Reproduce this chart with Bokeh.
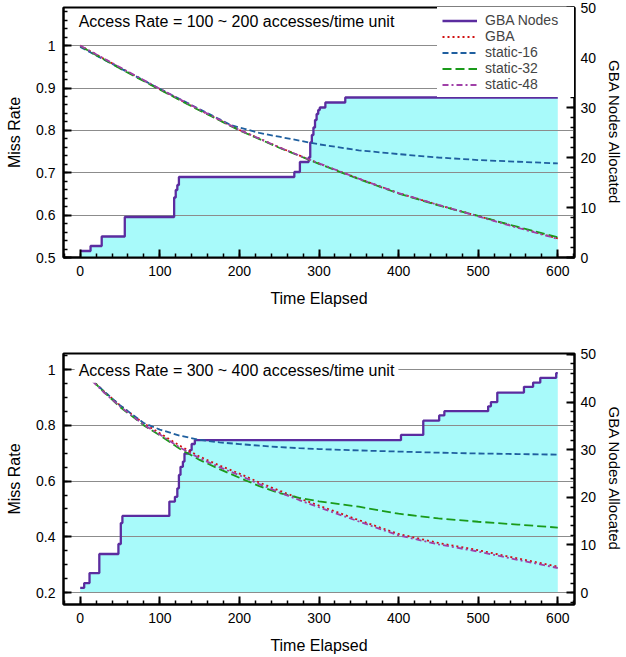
import numpy as np
from bokeh.plotting import figure
from bokeh.models import (Range1d, LinearAxis, SingleIntervalTicker, CustomJSTickFormatter,
                          Label, Legend, LegendItem)
from bokeh.layouts import column
from bokeh.embed import file_html
from bokeh.resources import INLINE

# ---------------- data: top panel (100 ~ 200 accesses/time unit) ----------------
top_t = [0, 50, 100, 150, 200, 250, 300, 350, 400, 450, 500, 550, 600]
top_gba = [1.0, 0.948, 0.897, 0.848, 0.801, 0.760, 0.722, 0.686, 0.652, 0.624, 0.598, 0.571, 0.545]
top_s32 = [0.999, 0.946, 0.896, 0.847, 0.800, 0.759, 0.721, 0.685, 0.651, 0.623, 0.598, 0.572, 0.548]
top_s48 = [1.0, 0.949, 0.898, 0.849, 0.801, 0.760, 0.722, 0.686, 0.652, 0.624, 0.597, 0.570, 0.544]
top_s16_t = [0, 50, 100, 150, 190, 225, 250, 300, 350, 400, 450, 500, 550, 600]
top_s16 = [0.997, 0.947, 0.898, 0.850, 0.812, 0.794, 0.785, 0.767, 0.753, 0.744, 0.736, 0.730, 0.726, 0.722]
top_nodes_t = [0, 13, 27, 56, 118, 120, 122, 124, 269, 276, 287, 289, 291, 293, 295, 297, 299, 301, 308, 333, 600]
top_nodes = [1.3, 2.3, 4.2, 8.1, 12.0, 13.5, 14.5, 16.1, 17.1, 19.1, 20.0, 23.0, 24.5, 26.0, 27.5, 28.7, 29.5, 30.0, 31.0, 32.0, 32.0]

# ---------------- data: bottom panel (300 ~ 400 accesses/time unit) ----------------
bot_t = [15, 30, 50, 80, 100, 125, 150, 175, 200, 225, 250, 275, 300, 350, 400, 450, 500, 550, 600]
bot_gba = [0.962, 0.922, 0.872, 0.807, 0.772, 0.727, 0.688, 0.656, 0.627, 0.595, 0.566, 0.538, 0.512, 0.460, 0.410, 0.378, 0.352, 0.322, 0.293]
bot_s48 = [0.960, 0.918, 0.868, 0.802, 0.767, 0.721, 0.682, 0.650, 0.621, 0.589, 0.560, 0.532, 0.506, 0.455, 0.405, 0.373, 0.347, 0.317, 0.288]
bot_s32 = [0.962, 0.919, 0.866, 0.800, 0.764, 0.716, 0.676, 0.643, 0.612, 0.582, 0.557, 0.540, 0.527, 0.508, 0.483, 0.466, 0.454, 0.444, 0.433]
bot_s16 = [0.962, 0.922, 0.872, 0.808, 0.785, 0.763, 0.748, 0.739, 0.733, 0.727, 0.722, 0.718, 0.715, 0.710, 0.706, 0.702, 0.699, 0.697, 0.695]
bot_nodes_t = [0, 5, 11.7, 24, 48, 51, 53, 112, 119, 122, 124, 126, 129, 131, 137.5, 140, 144,
               403, 431, 451, 457.5, 512.5, 516, 524, 557.5, 569, 578, 598, 600]
bot_nodes = [1.0, 2.0, 4.1, 8.1, 10.2, 14.6, 16.1, 19.1, 20.1, 21.9, 24.7, 26.4, 27.5, 29.2, 29.9, 31.2, 32.0,
             33.1, 36.1, 37.2, 38.1, 39.1, 40.0, 42.0, 43.2, 44.1, 45.1, 46.1, 46.1]

titles = ["Access Rate = 100 ~ 200 accesses/time unit", "Access Rate = 300 ~ 400 accesses/time unit"]
series_names = ["GBA Nodes", "GBA", "static-16", "static-32", "static-48"]

FONT = "Liberation Sans"
C_NODES = "#5b2c9f"
C_FILL = "#a8fafa"
C_GBA = "#d01010"
C_S16 = "#1f5f9f"
C_S32 = "#1a9a1a"
C_S48 = "#a040a8"


def step_xy(t, v):
    xs, ys = [t[0]], [v[0]]
    for i in range(1, len(t)):
        xs += [t[i], t[i]]
        ys += [v[i - 1], v[i]]
    return xs, ys


fmt = CustomJSTickFormatter(code="return String(Number(tick.toFixed(2)));")


def style_axis(ax, interval, minor, label_standoff=8, axlab_standoff=8, axlab_size="16px"):
    ax.ticker = SingleIntervalTicker(interval=interval, num_minor_ticks=minor)
    ax.axis_line_color = "black"
    ax.axis_line_width = 2
    ax.major_tick_in = 8
    ax.major_tick_out = 0
    ax.major_tick_line_width = 2
    ax.major_tick_line_color = "black"
    ax.minor_tick_in = 4
    ax.minor_tick_out = 0
    ax.minor_tick_line_width = 1.5
    ax.minor_tick_line_color = "black"
    ax.major_label_text_font = FONT
    ax.major_label_text_font_size = "14px"
    ax.major_label_text_color = "black"
    ax.major_label_standoff = label_standoff
    ax.axis_label_text_font = FONT
    ax.axis_label_text_font_size = axlab_size
    ax.axis_label_text_font_style = "normal"
    ax.axis_label_text_color = "black"
    ax.axis_label_standoff = axlab_standoff


def make_panel(title, lines, nodes_t, nodes_v, yr, nr, y_int, y_minor, height,
               mb_top, mb_bottom, title_y, legend):
    p = figure(width=626, height=height, output_backend="svg", toolbar_location=None,
               x_range=Range1d(-21, 621), y_range=Range1d(*yr),
               min_border_left=63, min_border_right=51, min_border_top=mb_top,
               min_border_bottom=mb_bottom)
    p.extra_y_ranges = {"nodes": Range1d(*nr)}
    p.outline_line_color = "black"
    p.outline_line_width = 2
    p.xgrid.visible = False
    p.ygrid.grid_line_color = "#8c8c8c"
    p.ygrid.grid_line_width = 1

    xs, ys = step_xy(nodes_t, nodes_v)
    area = p.varea(x=xs, y1=[0] * len(xs), y2=ys, fill_color=C_FILL, y_range_name="nodes")
    area.level = "image"

    items = []
    nl = p.line(xs, ys, line_color=C_NODES, line_width=2.3, y_range_name="nodes")
    items.append(LegendItem(label=series_names[0], renderers=[nl]))
    for name, t, v, col, dash, w in lines:
        r = p.line(t, v, line_color=col, line_dash=dash, line_width=w)
        items.append(LegendItem(label=name, renderers=[r]))

    style_axis(p.xaxis[0], 100, 5, label_standoff=8, axlab_standoff=11)
    p.xaxis[0].axis_label = "Time Elapsed"
    style_axis(p.yaxis[0], y_int, y_minor, label_standoff=8, axlab_standoff=10)
    p.yaxis[0].axis_label = "Miss Rate"
    p.yaxis[0].formatter = fmt

    ra = LinearAxis(y_range_name="nodes", axis_label="GBA Nodes Allocated")
    style_axis(ra, 10, 5, label_standoff=6, axlab_standoff=7, axlab_size="15px")
    p.add_layout(ra, "right")

    p.add_layout(Label(x=-7, y=title_y, text=title, text_font=FONT, text_font_size="16px",
                       text_color="black", text_baseline="alphabetic",
                       background_fill_color="white", padding=4))

    if legend:
        lg = Legend(items=items, location="top_right", border_line_alpha=0,
                    background_fill_color="white", background_fill_alpha=1.0,
                    label_text_font=FONT, label_text_font_size="14px",
                    glyph_width=35, glyph_height=15, label_height=15,
                    label_standoff=8, spacing=0, padding=5, margin=0, label_width=84)
        p.add_layout(lg, "center")
    return p


top_lines = [
    (series_names[1], top_t, top_gba, C_GBA, "2 3", 1.8),
    (series_names[2], top_s16_t, top_s16, C_S16, "6 3", 1.8),
    (series_names[3], top_t, top_s32, C_S32, "9 4", 1.8),
    (series_names[4], top_t, top_s48, C_S48, "6 3 2 3", 1.8),
]
bot_lines = [
    (series_names[1], bot_t, bot_gba, C_GBA, "2 3", 1.8),
    (series_names[2], bot_t, bot_s16, C_S16, "6 3", 1.8),
    (series_names[3], bot_t, bot_s32, C_S32, "9 4", 1.8),
    (series_names[4], bot_t, bot_s48, C_S48, "6 3 2 3", 1.8),
]

p1 = make_panel(titles[0], top_lines, top_nodes_t, top_nodes, (0.5, 1.09), (0, 50), 0.1, 5,
                330, 7, 73, 1.056, True)
p2 = make_panel(titles[1], bot_lines, bot_nodes_t, bot_nodes, (0.157, 1.058), (-2.5, 50.2), 0.2, 4,
                326, 23, 51, 0.998, False)

layout = column(p1, p2)
open("out.html", "w").write(file_html(layout, INLINE))
